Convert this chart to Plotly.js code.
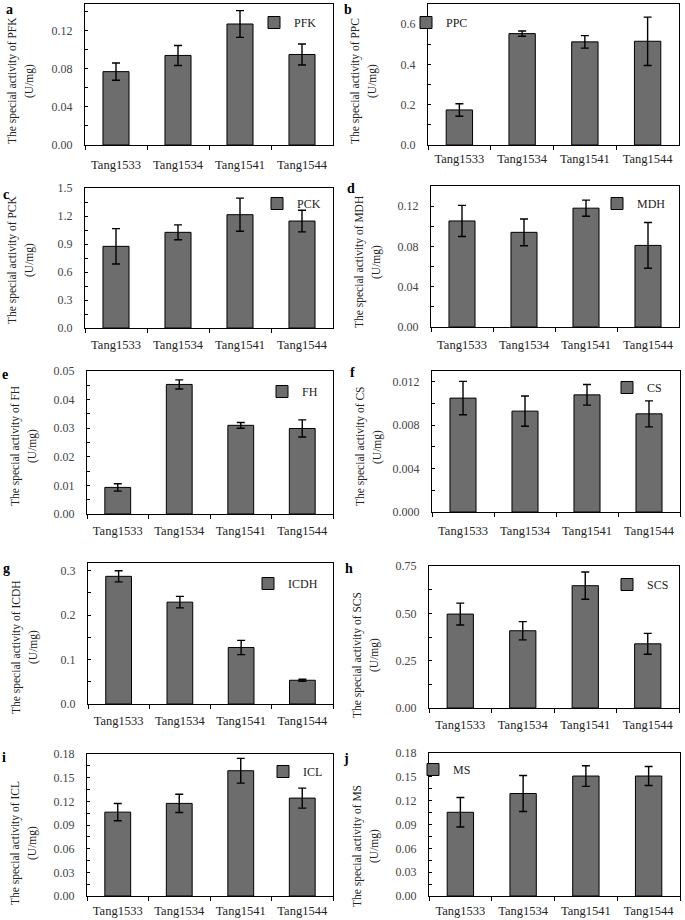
<!DOCTYPE html>
<html>
<head>
<meta charset="utf-8">
<script src="https://cdn.plot.ly/plotly-3.0.1.min.js"></script>
<style>html,body{margin:0;padding:0;background:#fff;}#chart{width:685px;height:920px;}</style>
</head>
<body>
<div id="chart"></div>
<script>
// ---- data ----
const categories = ['Tang1533', 'Tang1534', 'Tang1541', 'Tang1544'];

const pfk = [0.077, 0.094, 0.127, 0.095];
const pfkErr = [0.009, 0.0105, 0.014, 0.011];

const ppc = [0.174, 0.553, 0.512, 0.515];
const ppcErr = [0.031, 0.013, 0.031, 0.12];

const pck = [0.875, 1.025, 1.214, 1.146];
const pckErr = [0.19, 0.08, 0.177, 0.116];

const mdh = [0.1053, 0.094, 0.118, 0.081];
const mdhErr = [0.0155, 0.0133, 0.008, 0.0227];

const fh = [0.0093, 0.0453, 0.031, 0.0299];
const fhErr = [0.0013, 0.0016, 0.001, 0.003];

const cs = [0.0105, 0.0093, 0.0108, 0.00905];
const csErr = [0.00154, 0.0014, 0.00095, 0.0012];

const icdh = [0.287, 0.229, 0.127, 0.0534];
const icdhErr = [0.0125, 0.013, 0.016, 0.0023];

const scs = [0.496, 0.408, 0.646, 0.339];
const scsErr = [0.058, 0.048, 0.072, 0.055];

const icl = [0.1063, 0.1174, 0.1588, 0.1241];
const iclErr = [0.011, 0.0115, 0.0157, 0.0127];

const ms = [0.1054, 0.129, 0.151, 0.151];
const msErr = [0.0185, 0.0226, 0.013, 0.012];

const enzymeNames = ['PFK', 'PPC', 'PCK', 'MDH', 'FH', 'CS', 'ICDH', 'SCS', 'ICL', 'MS'];
const panelLetters = ['a', 'b', 'c', 'd', 'e', 'f', 'g', 'h', 'i', 'j'];
const seriesValues = [pfk, ppc, pck, mdh, fh, cs, icdh, scs, icl, ms];
const seriesErrors = [pfkErr, ppcErr, pckErr, mdhErr, fhErr, csErr, icdhErr, scsErr, iclErr, msErr];
const yMax = [0.148, 0.7, 1.5, 0.14, 0.05, 0.013, 0.317, 0.75, 0.18, 0.18];
const yDtick = [0.04, 0.2, 0.3, 0.04, 0.01, 0.004, 0.1, 0.25, 0.03, 0.03];
const yFormat = ['.2f', '.1f', '.1f', '.2f', '.2f', '.3f', '.1f', '.2f', '.2f', '.2f'];

// ---- layout geometry (pixels) ----
const W = 685, H = 920;
const FONT = 'Liberation Serif';
const boxes = [
  [85, 333, 4, 145], [428, 679, 4, 145],
  [85, 333, 188, 328], [431, 679, 186, 327],
  [87, 333, 371, 514], [432, 680, 371, 512],
  [88, 333, 563, 704], [429, 679, 566, 708],
  [87, 333, 754, 896], [429, 680, 753, 896]
];
const xLabelStandoff = [8, 2, 5, 6, 5, 7, 5, 5, 3, 3];
const titleCenterY = [81, 81, 260, 262, 446, 447, 647, 655, 843, 846];
const legendPos = [
  [294, 21], [446, 21], [297, 202], [637, 202], [302, 390],
  [647, 386], [288, 582], [647, 583], [303, 770], [453, 768]
];
const letterPos = [
  [9, 9], [348, 9], [6, 195], [351, 189], [5, 375],
  [352, 372], [6, 568], [349, 568], [4, 757], [346, 758]
];

const traces = [];
const layout = {
  width: W, height: H,
  margin: {l: 0, r: 0, t: 0, b: 0},
  paper_bgcolor: '#fff', plot_bgcolor: '#fff',
  font: {family: FONT, color: '#222'},
  annotations: []
};

for (let i = 0; i < 10; i++) {
  const n = i === 0 ? '' : String(i + 1);
  const [x0, x1, yt, yb] = boxes[i];
  const legName = 'legend' + n;
  traces.push({
    type: 'bar',
    x: categories,
    y: seriesValues[i],
    name: enzymeNames[i],
    xaxis: 'x' + n, yaxis: 'y' + n,
    legend: legName,
    showlegend: true,
    width: 0.42,
    marker: {color: '#6d6d6d', line: {color: '#000', width: 1}},
    error_y: {type: 'data', array: seriesErrors[i], visible: true, color: '#000', thickness: 1.4, width: 4},
    hoverinfo: 'x+y'
  });
  layout['xaxis' + n] = {
    domain: [x0 / W, x1 / W],
    anchor: 'y' + n,
    type: 'category',
    range: [-0.5, 3.5],
    tickson: 'boundaries',
    ticks: 'outside', ticklen: 4, tickcolor: '#000', tickwidth: 1,
    showline: true, linecolor: '#000', linewidth: 1, mirror: true,
    showgrid: false, zeroline: false,
    tickfont: {family: FONT, size: 12.5, color: '#222'},
    ticklabelstandoff: xLabelStandoff[i],
    fixedrange: true
  };
  layout['yaxis' + n] = {
    domain: [1 - yb / H, 1 - yt / H],
    anchor: 'x' + n,
    range: [0, yMax[i]],
    tick0: 0, dtick: yDtick[i], tickformat: yFormat[i],
    ticks: 'inside', ticklen: 3, tickcolor: '#000', tickwidth: 1,
    minor: {dtick: yDtick[i] / 2, ticks: 'inside', ticklen: 3, tickcolor: '#000', showgrid: false},
    showline: true, linecolor: '#000', linewidth: 1, mirror: true,
    showgrid: false, zeroline: false,
    tickfont: {family: FONT, size: 12, color: '#444'},
    ticklabelstandoff: 9,
    fixedrange: true
  };
  layout[legName] = {
    x: (legendPos[i][0] - 40) / W,
    y: 1 - (legendPos[i][1] - 13) / H,
    xanchor: 'left', yanchor: 'top',
    bgcolor: 'rgba(0,0,0,0)', borderwidth: 0,
    font: {family: FONT, size: 12, color: '#222'}
  };
  const yc = 1 - titleCenterY[i] / H;
  layout.annotations.push({
    xref: 'paper', yref: 'paper', x: (x0 - 72) / W, y: yc,
    xanchor: 'center', yanchor: 'middle', textangle: -90, showarrow: false,
    text: 'The special activity of ' + enzymeNames[i],
    font: {family: FONT, size: 11.5, color: '#222'}
  });
  layout.annotations.push({
    xref: 'paper', yref: 'paper', x: (x0 - 55) / W, y: yc,
    xanchor: 'center', yanchor: 'middle', textangle: -90, showarrow: false,
    text: '(U/mg)',
    font: {family: FONT, size: 11.5, color: '#222'}
  });
  layout.annotations.push({
    xref: 'paper', yref: 'paper', x: letterPos[i][0] / W, y: 1 - letterPos[i][1] / H,
    xanchor: 'center', yanchor: 'middle', showarrow: false,
    text: '<b>' + panelLetters[i] + '</b>',
    font: {family: FONT, size: 14, color: '#000'}
  });
}

Plotly.newPlot('chart', traces, layout, {displayModeBar: false, staticPlot: true});
</script>
</body>
</html>
